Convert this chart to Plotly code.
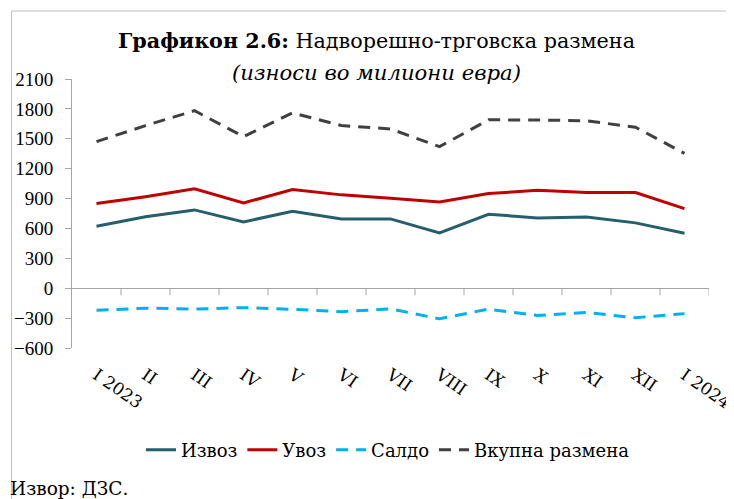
import plotly.graph_objects as go

months = ["I 2023", "II", "III", "IV", "V", "VI", "VII", "VIII", "IX", "X", "XI", "XII", "I 2024"]
exports = [622, 718, 786, 666, 772, 696, 696, 556, 742, 706, 716, 656, 552]
imports = [850, 918, 997, 856, 990, 937, 903, 866, 950, 983, 960, 960, 799]
balance = [-222, -200, -210, -195, -212, -236, -207, -307, -210, -274, -244, -296, -255]
total = [1471, 1632, 1782, 1522, 1760, 1633, 1599, 1421, 1690, 1689, 1680, 1616, 1353]

SERIF = "Liberation Serif"
WIDE = "DejaVu Serif"

# the page body adds an 8px margin; lay the figure out in reference pixels minus that
OFF = 8
W, H = 734 - OFF, 499 - OFF
PL, PR, PT, PB = 72 - OFF, 709 - OFF, 79 - OFF, 348 - OFF
PW, PH = PR - PL, PB - PT


def px(x):
    return (x - OFF - PL) / PW


def py(y):
    return (PB - (y - OFF)) / PH


fig = go.Figure()
fig.add_trace(go.Scatter(x=months, y=exports, name="Извоз", mode="lines",
                         line=dict(color="#255E6C", width=3)))
fig.add_trace(go.Scatter(x=months, y=imports, name="Увоз", mode="lines",
                         line=dict(color="#C00000", width=3)))
fig.add_trace(go.Scatter(x=months, y=balance, name="Салдо", mode="lines",
                         line=dict(color="#00B0F0", width=3, dash="12px,8px")))
fig.add_trace(go.Scatter(x=months, y=total, name="Вкупна размена", mode="lines",
                         line=dict(color="#404040", width=3, dash="12px,8px")))

# tick marks on the zero line at category boundaries
shapes = []
for i in range(1, len(months) + 1):
    shapes.append(dict(type="line", xref="x", yref="y", x0=i - 0.5, x1=i - 0.5,
                       ysizemode="pixel", yanchor=0, y0=0, y1=-7,
                       line=dict(color="#A6A6A6", width=1)))
# outer frame (top and left edges visible)
shapes.append(dict(type="line", xref="paper", yref="paper", x0=px(11.5), x1=px(734),
                   y0=py(11), y1=py(11), line=dict(color="#BFBFBF", width=1), layer="below"))
shapes.append(dict(type="line", xref="paper", yref="paper", x0=px(11.5), x1=px(11.5),
                   y0=py(11), y1=py(499), line=dict(color="#BFBFBF", width=1), layer="below"))

fig.update_layout(
    width=W, height=H,
    margin=dict(l=PL, r=W - PR, t=PT, b=H - PB, autoexpand=False),
    paper_bgcolor="white", plot_bgcolor="white",
    font=dict(family=SERIF, color="#000000"),
    showlegend=True,
    legend=dict(orientation="h", x=px(388), xanchor="center", y=py(450), yanchor="middle",
                font=dict(size=18, family=WIDE), itemwidth=30, tracegroupgap=0),
    shapes=shapes,
    annotations=[
        dict(text="<b>Графикон 2.6:</b> Надворешно-трговска размена", xref="paper", yref="paper",
             x=px(376), y=py(41), xanchor="center", yanchor="middle",
             showarrow=False, font=dict(size=20.7, family=WIDE)),
        dict(text="<i>(износи во милиони евра)</i>", xref="paper", yref="paper",
             x=px(376), y=py(73), xanchor="center", yanchor="middle",
             showarrow=False, font=dict(size=21.2, family=WIDE)),
        dict(text="Извор: ДЗС.", xref="paper", yref="paper",
             x=px(8), y=py(488), xanchor="left", yanchor="middle",
             showarrow=False, font=dict(size=18.5, family=WIDE)),
    ],
)
fig.update_xaxes(type="category", range=[-0.5, 12.5], showgrid=False, showline=False,
                 zeroline=False, ticks="", tickangle=35, ticklabelstandoff=13,
                 tickfont=dict(size=17, family=WIDE))
fig.update_yaxes(range=[-600, 2100], dtick=300, tick0=0, showgrid=False,
                 showline=True, linecolor="#A6A6A6", linewidth=1,
                 ticks="outside", ticklen=6, tickcolor="#A6A6A6",
                 zeroline=True, zerolinecolor="#A6A6A6", zerolinewidth=1,
                 tickfont=dict(size=19, family=SERIF), ticklabelstandoff=8)

fig.write_html("out.html")
